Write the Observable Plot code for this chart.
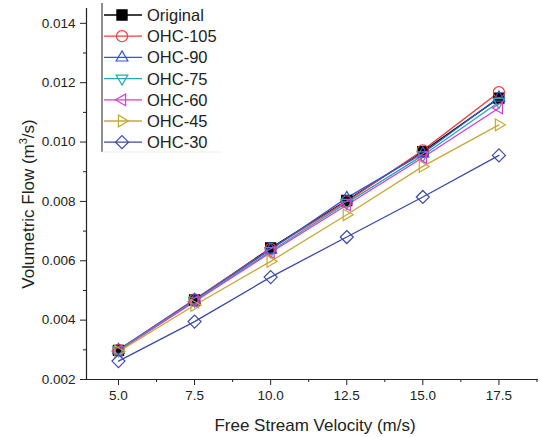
<!DOCTYPE html>
<html>
<head>
<meta charset="utf-8">
<script src="https://cdn.jsdelivr.net/npm/d3@7"></script>
<script src="https://cdn.jsdelivr.net/npm/@observablehq/plot@0.6"></script>
<style>
  html, body { margin: 0; padding: 0; background: #fff; }
  #chart { position: relative; width: 542px; height: 437px; }
</style>
</head>
<body>
<div id="chart"></div>
<script>
// ---- data ----
const velocity = [5, 7.5, 10, 12.5, 15, 17.5];
const seriesNames = ["Original", "OHC-105", "OHC-90", "OHC-75", "OHC-60", "OHC-45", "OHC-30"];
const original = [0.00298, 0.00468, 0.00643, 0.00803, 0.00968, 0.01148];
const ohc105   = [0.00300, 0.00470, 0.00640, 0.00800, 0.00972, 0.01168];
const ohc90    = [0.00300, 0.00468, 0.00638, 0.00812, 0.00962, 0.01150];
const ohc75    = [0.00298, 0.00465, 0.00632, 0.00795, 0.00955, 0.01135];
const ohc60    = [0.00296, 0.00462, 0.00628, 0.00788, 0.00948, 0.01115];
const ohc45    = [0.00294, 0.00450, 0.00598, 0.00755, 0.00918, 0.01058];
const ohc30    = [0.00262, 0.00395, 0.00545, 0.00680, 0.00815, 0.00955];
const xTicks = [5, 7.5, 10, 12.5, 15, 17.5];
const xMinor = [6.25, 8.75, 11.25, 13.75, 16.25, 18.75];
const yTicks = [0.002, 0.004, 0.006, 0.008, 0.010, 0.012, 0.014];
const yMinor = [0.003, 0.005, 0.007, 0.009, 0.011, 0.013];

const seriesValues = [original, ohc105, ohc90, ohc75, ohc60, ohc45, ohc30];
const colors = ["#000000", "#e8403a", "#3354dc", "#22a9b4", "#d23ed2", "#c6a83a", "#3c4aa8"];

// ---- symbols ----
const rOf = size => Math.sqrt(size / Math.PI);
function poly(ctx, pts) { ctx.moveTo(pts[0][0], pts[0][1]); for (let i = 1; i < pts.length; i++) ctx.lineTo(pts[i][0], pts[i][1]); ctx.closePath(); }
const symSquare = { draw(ctx, size) { const s = rOf(size) * 0.78; poly(ctx, [[-s,-s],[s,-s],[s,s],[-s,s]]); } };
const symCircle = { draw(ctx, size) { const r = rOf(size) * 0.85; ctx.moveTo(r, 0); ctx.arc(0, 0, r, 0, 2 * Math.PI); } };
const symUp = { draw(ctx, size) { const r = rOf(size); poly(ctx, [[0,-r],[r*0.9,r*0.55],[-r*0.9,r*0.55]]); } };
const symDown = { draw(ctx, size) { const r = rOf(size); poly(ctx, [[0,r],[r*0.9,-r*0.55],[-r*0.9,-r*0.55]]); } };
const symLeft = { draw(ctx, size) { const r = rOf(size); poly(ctx, [[-r,0],[r*0.55,-r*0.9],[r*0.55,r*0.9]]); } };
const symRight = { draw(ctx, size) { const r = rOf(size); poly(ctx, [[r,0],[-r*0.55,-r*0.9],[-r*0.55,r*0.9]]); } };
const symDiamond = { draw(ctx, size) { const r = rOf(size); poly(ctx, [[0,-r],[r,0],[0,r],[-r,0]]); } };
const symbols = [symSquare, symCircle, symUp, symDown, symLeft, symRight, symDiamond];

const data = seriesNames.map((name, i) => velocity.map((v, j) => ({ name, v, q: seriesValues[i][j] })));

const FONT = "'Liberation Sans', Arial, Helvetica, sans-serif";
const markR = 6.5;

const marks = [
  Plot.axisX({ ticks: xTicks, tickSize: 6, tickPadding: 5, tickFormat: d => d.toFixed(1), label: null, fontSize: 13.5, stroke: "#222", fill: "#222" }),
  Plot.axisX({ ticks: xMinor, tickSize: 3, tickFormat: () => "", label: null, stroke: "#222" }),
  Plot.axisY({ ticks: yTicks, tickSize: 6, tickPadding: 5, tickFormat: d => d.toFixed(3), label: null, fontSize: 13.5, stroke: "#222", fill: "#222" }),
  Plot.axisY({ ticks: yMinor, tickSize: 3, tickFormat: () => "", label: null, stroke: "#222" }),
  Plot.ruleX([3.95], { stroke: "#222", strokeWidth: 1.2 }),
  Plot.ruleY([0.002], { stroke: "#222", strokeWidth: 1.2 })
];
data.forEach((d, i) => {
  marks.push(Plot.line(d, { x: "v", y: "q", stroke: colors[i], strokeWidth: 1.3 }));
});
data.forEach((d, i) => {
  marks.push(Plot.dot(d, { x: "v", y: "q", r: markR, symbol: symbols[i], stroke: colors[i], strokeWidth: 1.2, fill: i === 0 ? colors[i] : "none" }));
});

const plot = Plot.plot({
  width: 542, height: 437,
  marginLeft: 86, marginRight: 4, marginTop: 8, marginBottom: 58,
  x: { domain: [3.95, 18.8] },
  y: { domain: [0.002, 0.0145] },
  style: { fontFamily: FONT, fontSize: "13.5px", color: "#222", background: "#fff" },
  marks
});
document.getElementById("chart").appendChild(plot);

const svg = d3.select(plot);
// axis titles
svg.append("text").attr("x", 315).attr("y", 431).attr("text-anchor", "middle")
  .attr("font-family", FONT).attr("font-size", 17).attr("fill", "#222")
  .text("Free Stream Velocity (m/s)");
const yt = svg.append("text").attr("transform", "translate(34,204) rotate(-90)").attr("text-anchor", "middle")
  .attr("font-family", FONT).attr("font-size", 17).attr("fill", "#222");
yt.append("tspan").text("Volumetric Flow (m");
yt.append("tspan").attr("font-size", 11).attr("dy", -7).text("3");
yt.append("tspan").attr("dy", 7).text("/s)");

// legend
const lg = svg.append("g");
lg.append("line").attr("x1", 102).attr("x2", 102).attr("y1", 3).attr("y2", 152).attr("stroke", "#444").attr("stroke-width", 1.2);
lg.append("line").attr("x1", 102).attr("x2", 222).attr("y1", 152).attr("y2", 152).attr("stroke", "#eee").attr("stroke-width", 1);
seriesNames.forEach((name, i) => {
  const y = 15 + i * 21.2;
  lg.append("line").attr("x1", 104).attr("x2", 142).attr("y1", y).attr("y2", y).attr("stroke", colors[i]).attr("stroke-width", 1.3);
  lg.append("path").attr("transform", `translate(122,${y})`)
    .attr("d", d3.symbol().type(symbols[i]).size(Math.PI * markR * markR)())
    .attr("stroke", colors[i]).attr("stroke-width", 1.2).attr("fill", i === 0 ? colors[i] : "none");
  lg.append("text").attr("x", 147).attr("y", y).attr("dy", "0.36em").attr("text-anchor", "start")
    .attr("font-family", FONT).attr("font-size", 16.5).attr("fill", "#222").text(name);
});
</script>
</body>
</html>
